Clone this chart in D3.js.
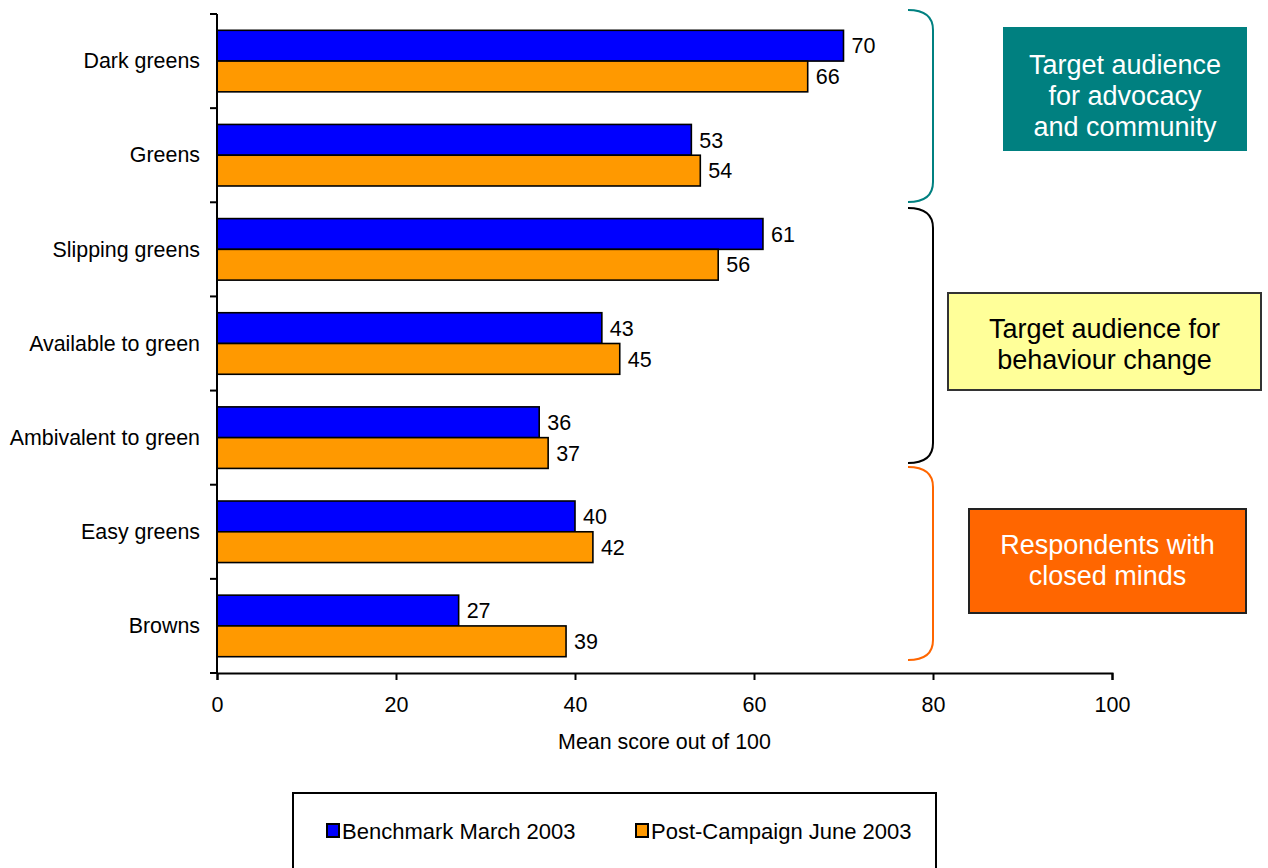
<!DOCTYPE html>
<html>
<head>
<meta charset="utf-8">
<script src="https://cdn.jsdelivr.net/npm/d3@7"></script>
<style>
  html, body { margin: 0; padding: 0; background: #fff; }
  svg { display: block; font-family: "Liberation Sans", Arial, sans-serif; }
</style>
</head>
<body>
<svg id="chart" width="1268" height="868"></svg>
<script>
const categories = ["Dark greens", "Greens", "Slipping greens", "Available to green", "Ambivalent to green", "Easy greens", "Browns"];
const benchmark = [70, 53, 61, 43, 36, 40, 27];
const postCampaign = [66, 54, 56, 45, 37, 42, 39];
const seriesNames = ["Benchmark March 2003", "Post-Campaign June 2003"];
const seriesColors = ["#0000FF", "#FF9900"];
const xTicks = [0, 20, 40, 60, 80, 100];
const xAxisTitle = "Mean score out of 100";
const annotations = [
  { lines: ["Target audience", "for advocacy", "and community"], fill: "#008080", text: "#ffffff", border: "#008080", brace: "#008080",
    box: [1004, 28, 1246, 150], braceY: [10, 202], shift: 6 },
  { lines: ["Target audience for", "behaviour change"], fill: "#FFFF99", text: "#000000", border: "#333333", brace: "#000000",
    box: [948, 293, 1261, 390], braceY: [208, 463], shift: 2 },
  { lines: ["Respondents with", "closed minds"], fill: "#FF6600", text: "#ffffff", border: "#222222", brace: "#FF6600",
    box: [969, 509, 1246, 613], braceY: [467, 660], shift: -1 }
];

const svg = d3.select("#chart");
const mLeft = 217, mRight = 1112, mTop = 14, mBottom = 673;

const x = d3.scaleLinear().domain([0, 100]).range([mLeft, mRight]);
const y = d3.scaleBand().domain(categories).range([mTop, mBottom]).paddingInner(0).paddingOuter(0);

// bars
const data = categories.map((c, i) => ({ c, vals: [benchmark[i], postCampaign[i]] }));
const barPad = 16.3;
const barH = (y.bandwidth() - 2 * barPad) / 2;

const groups = svg.append("g").selectAll("g").data(data).join("g")
  .attr("transform", d => `translate(0,${y(d.c)})`);

groups.selectAll("rect").data(d => d.vals.map((v, k) => ({ v, k }))).join("rect")
  .attr("x", x(0))
  .attr("y", d => barPad + d.k * barH)
  .attr("width", d => x(d.v) - x(0))
  .attr("height", barH)
  .attr("fill", d => seriesColors[d.k])
  .attr("stroke", "#000")
  .attr("stroke-width", 1.6);

groups.selectAll("text").data(d => d.vals.map((v, k) => ({ v, k }))).join("text")
  .attr("x", d => x(d.v) + 8)
  .attr("y", d => barPad + d.k * barH + barH / 2)
  .attr("dy", "0.36em")
  .attr("font-size", 21.5)
  .attr("fill", "#000")
  .text(d => d.v);

// y axis
const yAxisG = svg.append("g");
yAxisG.append("line").attr("x1", mLeft).attr("x2", mLeft).attr("y1", mTop).attr("y2", mBottom)
  .attr("stroke", "#000").attr("stroke-width", 2);
const yTickPos = categories.map(c => y(c)).concat([mBottom]);
yAxisG.selectAll("line.tick").data(yTickPos).join("line").attr("class", "tick")
  .attr("x1", mLeft - 7).attr("x2", mLeft).attr("y1", d => d).attr("y2", d => d)
  .attr("stroke", "#000").attr("stroke-width", 2);
yAxisG.selectAll("text").data(categories).join("text")
  .attr("x", mLeft - 17)
  .attr("y", d => y(d) + y.bandwidth() / 2)
  .attr("dy", "0.34em")
  .attr("text-anchor", "end")
  .attr("font-size", 21.4)
  .text(d => d);

// x axis
const xAxis = d3.axisBottom(x).tickValues(xTicks).tickSize(7).tickPadding(17).tickFormat(d3.format("d"));
const xg = svg.append("g").attr("transform", `translate(0,${mBottom})`).call(xAxis);
xg.select(".domain").attr("stroke", "#000").attr("stroke-width", 2);
xg.selectAll(".tick line").attr("stroke", "#000").attr("stroke-width", 2);
xg.selectAll(".tick text").attr("font-size", 21.5).attr("font-family", "Liberation Sans, Arial, sans-serif").attr("fill", "#000");

svg.append("text")
  .attr("x", (mLeft + mRight) / 2)
  .attr("y", 749)
  .attr("text-anchor", "middle")
  .attr("font-size", 21.4)
  .text(xAxisTitle);

// annotations: braces and boxes
annotations.forEach(a => {
  const [y0, y1] = a.braceY;
  const xa = 908, xb = 933, r = 20;
  svg.append("path")
    .attr("d", `M${xa},${y0} Q${xb},${y0} ${xb},${y0 + r} L${xb},${y1 - r} Q${xb},${y1} ${xa},${y1}`)
    .attr("fill", "none").attr("stroke", a.brace).attr("stroke-width", 2);
  const [bx0, by0, bx1, by1] = a.box;
  svg.append("rect").attr("x", bx0).attr("y", by0).attr("width", bx1 - bx0).attr("height", by1 - by0)
    .attr("fill", a.fill).attr("stroke", a.border).attr("stroke-width", 2);
  const cx = (bx0 + bx1) / 2, cy = (by0 + by1) / 2 + a.shift, lh = 31;
  a.lines.forEach((ln, i) => {
    svg.append("text")
      .attr("x", cx)
      .attr("y", cy + (i - (a.lines.length - 1) / 2) * lh)
      .attr("dy", "0.36em")
      .attr("text-anchor", "middle")
      .attr("font-size", 27)
      .attr("fill", a.text)
      .text(ln);
  });
});

// legend
const lg = svg.append("g");
lg.append("rect").attr("x", 293).attr("y", 793).attr("width", 936 - 293).attr("height", 90)
  .attr("fill", "#fff").attr("stroke", "#000").attr("stroke-width", 2);
const legendX = [327, 636];
seriesNames.forEach((s, i) => {
  lg.append("rect").attr("x", legendX[i]).attr("y", 824).attr("width", 12).attr("height", 13)
    .attr("fill", seriesColors[i]).attr("stroke", "#000").attr("stroke-width", 2);
  lg.append("text").attr("x", legendX[i] + 15).attr("y", 831).attr("dy", "0.36em")
    .attr("font-size", 22).text(s);
});
</script>
</body>
</html>
